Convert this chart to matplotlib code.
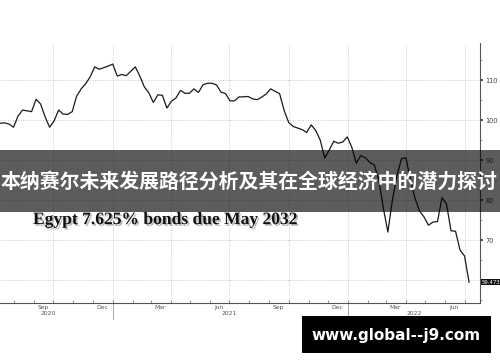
import pandas as pd
import matplotlib
matplotlib.use("Agg")
import matplotlib.pyplot as plt
import matplotlib.dates as mdates
import matplotlib.patheffects as pe
from matplotlib.patches import Rectangle
from matplotlib.transforms import blended_transform_factory

# weekly closing prices (Egypt 7.625% 2032 bond)
start_date = "2020-07-10"
prices = [
    99.2, 99.3, 99.0, 98.2, 101.0, 102.5, 102.3, 102.1, 105.2, 104.0,
    100.8, 98.2, 99.8, 102.5, 101.5, 101.4, 102.1, 106.0, 107.8, 109.1,
    110.8, 113.3, 112.7, 113.1, 113.5, 114.0, 111.0, 111.4, 111.1, 112.2,
    113.3, 111.0, 108.3, 106.8, 104.4, 106.3, 106.2, 103.0, 104.7, 105.5,
    107.4, 106.7, 106.7, 107.8, 106.9, 108.8, 109.2, 109.2, 108.8, 107.0,
    106.6, 104.8, 104.8, 105.8, 105.8, 105.9, 105.3, 105.1, 105.7, 106.5,
    107.8, 107.2, 106.6, 102.4, 99.4, 98.4, 98.0, 97.6, 96.9, 98.8,
    97.4, 95.0, 90.5, 92.5, 94.7, 94.2, 94.5, 95.8, 93.2, 89.2,
    91.1, 90.6, 89.4, 88.8, 85.0, 78.0, 72.0, 80.0, 86.0, 90.3,
    90.6, 85.0, 80.5, 77.3, 75.8, 73.7, 74.5, 74.6, 80.6, 79.0,
    72.3, 72.2, 67.5, 66.0, 59.473,
]
last_price = "59.473"

y_ticks = [60, 70, 80, 90, 100, 110]
y_labels = ["", "70", "80", "90", "100", "110"]
month_labels = ["Sep", "Dec", "Mar", "Jun", "Sep", "Dec", "Mar", "Jun"]
month_label_dates = ["2020-09-15", "2020-12-15", "2021-03-15", "2021-06-15",
                     "2021-09-15", "2021-12-15", "2022-03-15", "2022-06-15"]
years = ["2020", "2021", "2022"]
year_label_dates = ["2020-09-23", "2021-07-01", "2022-04-14"]
year_breaks = ["2021-01-01", "2022-01-01"]
grid_dates = ["2020-10-01", "2021-01-01", "2021-04-01", "2021-07-01",
              "2021-10-01", "2022-01-01", "2022-04-01", "2022-07-01"]

title = "Egypt 7.625% bonds due May 2032"
banner = "本纳赛尔未来发展路径分析及其在全球经济中的潜力探讨"
site = "www.global--j9.com"

dates = pd.date_range(start_date, periods=len(prices), freq="7D")

fig = plt.figure(figsize=(5, 3.62), dpi=100)
ax = fig.add_axes([0.0, 0.163, 0.96, 0.718])

# grid
for g in grid_dates:
    ax.axvline(pd.Timestamp(g), color="#b5b5b5", lw=0.6, ls=(0, (1, 2)), zorder=0)
for t in y_ticks:
    ax.axhline(t, color="#b5b5b5", lw=0.6, ls=(0, (1, 2)), zorder=0)

ax.plot(dates, prices, color="#1a1a1a", lw=0.9, zorder=3)

ax.set_xlim(pd.Timestamp(start_date), pd.Timestamp("2022-07-25"))
ax.set_ylim(54.25, 119.25)

for s in ["top", "left"]:
    ax.spines[s].set_visible(False)
for s in ["right", "bottom"]:
    ax.spines[s].set_color("#555555")
    ax.spines[s].set_linewidth(0.8)

ax.yaxis.tick_right()
ax.set_yticks(y_ticks)
ax.set_yticklabels(y_labels)
ax.set_yticks(range(55, 120, 5), minor=True)
ax.tick_params(axis="y", which="major", length=2.5, width=1.2, color="#333333",
               labelsize=4.8, labelcolor="#444444", pad=1.5)
ax.tick_params(axis="y", which="minor", length=1.5, width=0.5, color="#666666")

ax.set_xticks([])
ax.xaxis.set_minor_locator(mdates.MonthLocator())
ax.tick_params(axis="x", which="minor", direction="in", length=2, width=0.5,
               color="#666666")

xt = blended_transform_factory(ax.transData, ax.transAxes)
for lab, d in zip(month_labels, month_label_dates):
    ax.text(pd.Timestamp(d), -0.016, lab, transform=xt, ha="center", va="center",
            fontsize=4.3, color="#555555")
for lab, d in zip(years, year_label_dates):
    ax.text(pd.Timestamp(d), -0.04, lab, transform=xt, ha="center", va="center",
            fontsize=4.3, color="#555555")
for d in year_breaks:
    ax.plot([pd.Timestamp(d)] * 2, [0, -0.06], transform=xt, color="#999999",
            lw=0.6, clip_on=False)

yt = blended_transform_factory(ax.transAxes, ax.transData)
ax.text(1.004, 59.473, last_price, transform=yt, ha="left", va="center",
        fontsize=3.9, color="white",
        bbox=dict(boxstyle="square,pad=0.15", fc="#111111", ec="none"))

# title with soft shadow
fig.text(0.066, 0.392, title, ha="left", va="center", fontsize=12.6,
         family="Liberation Serif", fontweight="bold", color="#111111",
         path_effects=[pe.SimplePatchShadow(offset=(1.2, -1.2),
                                            shadow_rgbFace="#888888", alpha=0.6),
                       pe.Normal()])

# grey banner across the chart
fig.patches.append(Rectangle((0, 0.414), 1, 0.172, transform=fig.transFigure,
                             facecolor="black", alpha=0.64, zorder=5))
fig.text(0.497, 0.5, banner, ha="center", va="center", fontsize=14.3,
         color="white", fontweight="bold",
         family=["Noto Sans CJK SC", "DejaVu Sans"], zorder=6)

# black site box
fig.patches.append(Rectangle((0.604, 0.025), 0.378, 0.102,
                             transform=fig.transFigure, facecolor="black",
                             zorder=5))
fig.text(0.793, 0.072, site, ha="center", va="center", fontsize=11,
         color="white", fontweight="bold", family="DejaVu Sans", zorder=6)

fig.savefig("out.png", dpi=100)
